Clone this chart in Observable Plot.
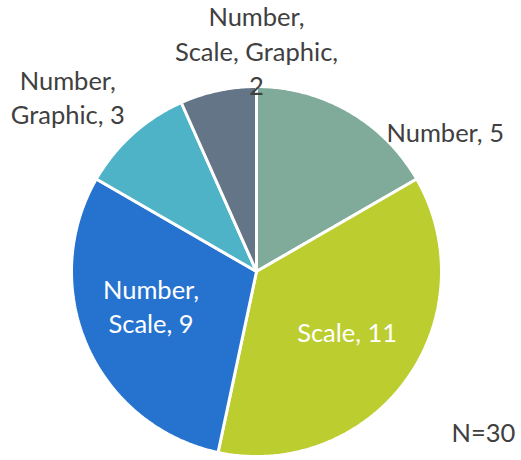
<!DOCTYPE html>
<html><head><meta charset="utf-8">
<script src="https://cdn.jsdelivr.net/npm/d3@7"></script>
<script src="https://cdn.jsdelivr.net/npm/@observablehq/plot@0.6"></script>
<style>body{margin:0;background:#fff}</style>
</head><body><div id="chart"></div>
<script>
const categories = ["Number", "Scale", "Number, Scale", "Number, Graphic", "Number, Scale, Graphic"];
const values = [5, 11, 9, 3, 2];
const colors = ["#80ab9b", "#bccd30", "#2672cf", "#4fb3c8", "#637587"];
const labelLines = [["Number, 5"], ["Scale, 11"], ["Number,", "Scale, 9"], ["Number,", "Graphic, 3"], ["Number,", "Scale, Graphic,", "2"]];
const labelPos = [[1.02, 0.757], [0.49, -0.32], [-0.57, -0.18], [-1.02, 0.95], [0, 1.2]];
const labelColors = ["#404040", "#ffffff", "#ffffff", "#404040", "#404040"];
const note = "N=" + d3.sum(values);

const arcs = d3.pie().sort(null)(values);
const sliceMarks = arcs.map((a, i) => {
  const pts = [{x: 0, y: 0}];
  const n = Math.max(2, Math.ceil((a.endAngle - a.startAngle) / 0.01));
  for (let k = 0; k <= n; k++) {
    const t = a.startAngle + (a.endAngle - a.startAngle) * k / n;
    pts.push({x: Math.sin(t), y: Math.cos(t)});
  }
  pts.push({x: 0, y: 0});
  return Plot.line(pts, {x: "x", y: "y", fill: colors[i], stroke: "white", strokeWidth: 3, strokeLinejoin: "miter"});
});

const labels = categories.map((c, i) => ({x: labelPos[i][0], y: labelPos[i][1], text: labelLines[i].join("\n"), color: labelColors[i]}));

const chart = Plot.plot({
  width: 521, height: 460,
  marginLeft: 71, marginRight: 80, marginTop: 86, marginBottom: 4,
  x: {domain: [-1, 1], axis: null},
  y: {domain: [-1, 1], axis: null},
  style: {fontFamily: "Lato, sans-serif", fontSize: "25px", background: "white"},
  marks: [
    ...sliceMarks,
    Plot.text(labels, {x: "x", y: "y", text: "text", fill: "color", fontSize: 25.5, lineHeight: 1.35}),
    Plot.text([note], {x: 1.227, y: -0.876, text: d => d, fill: "#404040", fontSize: 25.5})
  ]
});
document.getElementById("chart").appendChild(chart);
</script>
</body></html>
